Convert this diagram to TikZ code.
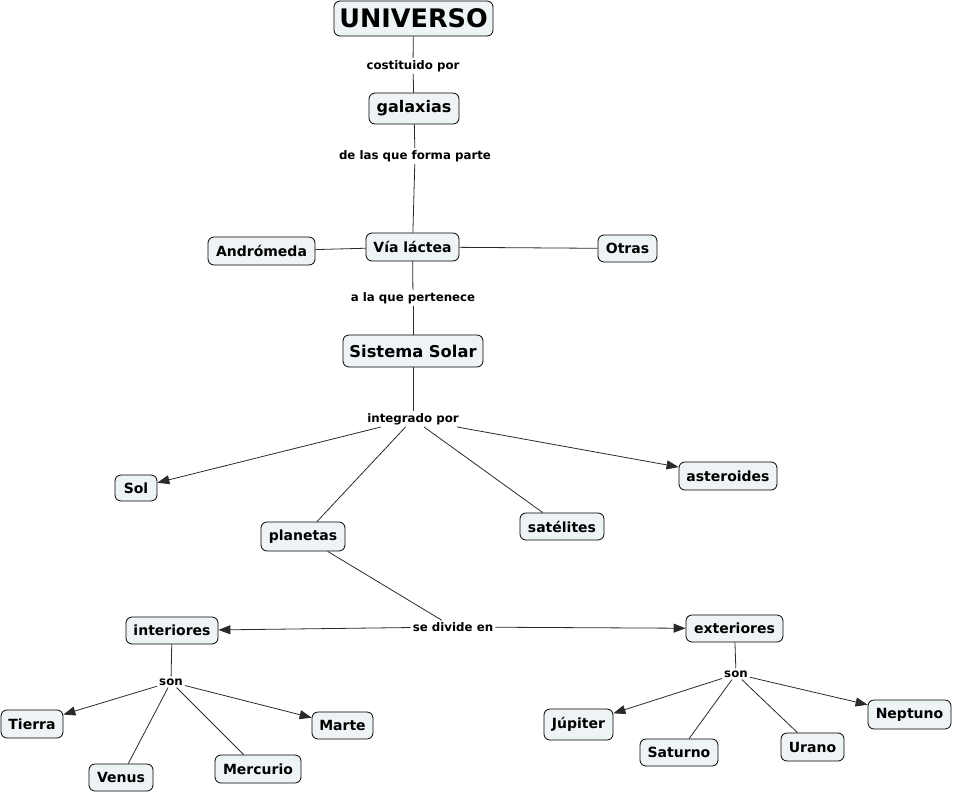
\documentclass[tikz,border=0pt]{standalone}
\usepackage{fontspec}
\setmainfont{DejaVu Sans}
\usetikzlibrary{arrows.meta}
\definecolor{cfill}{HTML}{EEF3F5}
\definecolor{lcol}{HTML}{2A2A2A}
\tikzset{
  concept/.style={draw=black, line width=0.8pt, fill=cfill, rounded corners=6pt,
    font=\bfseries\fontsize{14}{16}\selectfont, inner sep=0pt, align=center},
  linkp/.style={font=\bfseries\fontsize{11.8}{13}\selectfont, inner sep=2pt},
  conn/.style={draw=lcol, line width=0.8pt},
  arr/.style={conn, -{Triangle[length=12pt,width=9pt]}},
}
\begin{document}
\begin{tikzpicture}[x=1pt,y=-1pt]
\useasboundingbox (0,0) rectangle (954,793);
% concepts
\node[concept, minimum width=159, minimum height=35, font=\bfseries\fontsize{25.5}{27}\selectfont] (univ) at (413.5,18.5) {UNIVERSO};
\node[concept, minimum width=90, minimum height=31, font=\bfseries\fontsize{16}{18}\selectfont] (gal) at (414,108.5) {galaxias};
\node[concept, minimum width=93, minimum height=28] (via) at (412.5,247) {Vía láctea};
\node[concept, minimum width=107, minimum height=28] (andr) at (261.5,251) {Andrómeda};
\node[concept, minimum width=59, minimum height=27] (otras) at (627.5,248.5) {Otras};
\node[concept, minimum width=140, minimum height=32, font=\bfseries\fontsize{16.3}{18}\selectfont] (sis) at (413,351) {Sistema Solar};
\node[concept, minimum width=42, minimum height=26] (sol) at (136,488) {Sol};
\node[concept, minimum width=84, minimum height=29] (plan) at (303,536.5) {planetas};
\node[concept, minimum width=84, minimum height=27] (sat) at (562,526.5) {satélites};
\node[concept, minimum width=98, minimum height=28] (ast) at (728,476) {asteroides};
\node[concept, minimum width=92, minimum height=27] (int) at (172,630.5) {interiores};
\node[concept, minimum width=97, minimum height=27] (ext) at (734.5,628.5) {exteriores};
\node[concept, minimum width=62, minimum height=28] (tierra) at (32,724) {Tierra};
\node[concept, minimum width=64, minimum height=27] (venus) at (121,777.5) {Venus};
\node[concept, minimum width=86, minimum height=28] (merc) at (258,769) {Mercurio};
\node[concept, minimum width=61, minimum height=27] (marte) at (342.5,725.5) {Marte};
\node[concept, minimum width=69, minimum height=31] (jup) at (578.5,724.5) {Júpiter};
\node[concept, minimum width=78, minimum height=27] (sat2) at (679,752.5) {Saturno};
\node[concept, minimum width=63, minimum height=28] (urano) at (812.5,747) {Urano};
\node[concept, minimum width=83, minimum height=29] (nept) at (909.5,714.5) {Neptuno};
% linking phrases
\node[linkp] (l1) at (413,66) {costituido por};
\node[linkp] (l2) at (415,156) {de las que forma parte};
\node[linkp] (l3) at (413,298) {a la que pertenece};
\node[linkp] (l4) at (413,419) {integrado por};
\node[linkp] (l5) at (453,627) {se divide en};
\node[linkp] (l6) at (171,682) {son};
\node[linkp] (l7) at (736,674) {son};
% connectors
\draw[conn] (univ) -- (l1);
\draw[conn] (l1) -- (gal);
\draw[conn] (gal) -- (l2);
\draw[conn] (l2) -- (via);
\draw[conn] (andr) -- (via);
\draw[conn] (via) -- (otras);
\draw[conn] (via) -- (l3);
\draw[conn] (l3) -- (sis);
\draw[conn] (sis) -- (l4);
\draw[arr] (l4) -- (sol);
\draw[conn] (l4) -- (plan);
\draw[conn] (l4) -- (sat);
\draw[arr] (l4) -- (ast);
\draw[conn] (plan) -- (l5);
\draw[arr] (l5) -- (int);
\draw[arr] (l5) -- (ext);
\draw[conn] (int) -- (l6);
\draw[arr] (l6) -- (tierra);
\draw[conn] (l6) -- (venus);
\draw[conn] (l6) -- (merc);
\draw[arr] (l6) -- (marte);
\draw[conn] (ext) -- (l7);
\draw[arr] (l7) -- (jup);
\draw[conn] (l7) -- (sat2);
\draw[conn] (l7) -- (urano);
\draw[arr] (l7) -- (nept);
\end{tikzpicture}
\end{document}
